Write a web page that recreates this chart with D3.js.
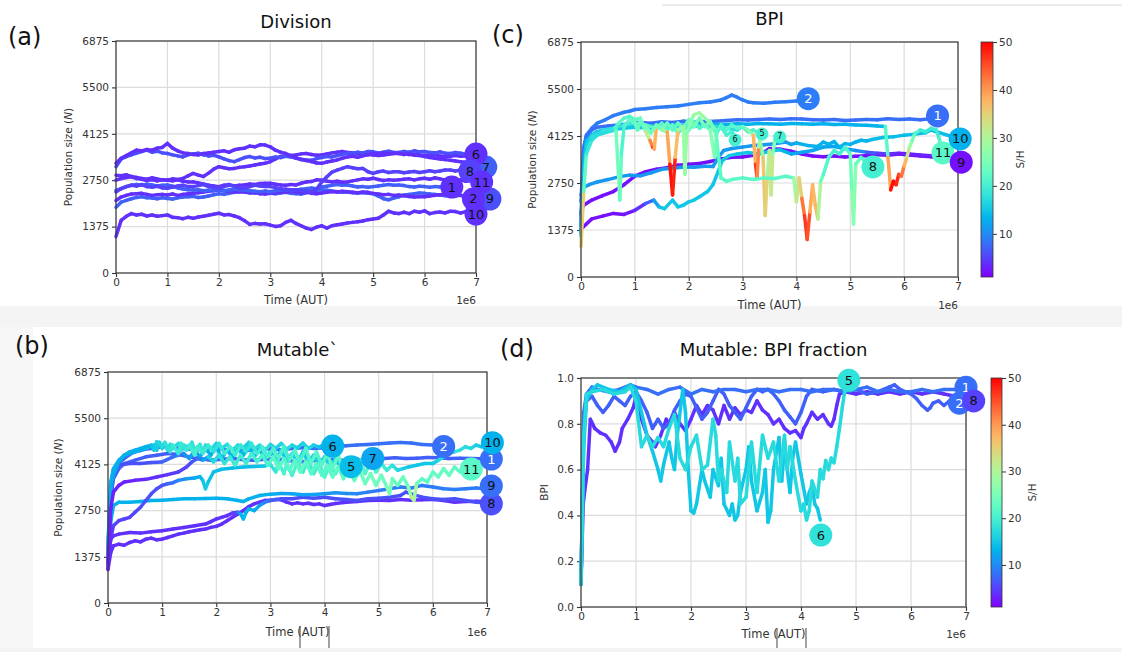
<!DOCTYPE html>
<html><head><meta charset="utf-8">
<script src="https://cdn.jsdelivr.net/npm/d3@7"></script>
<style>body{margin:0;background:#fff;}svg{display:block;}text{font-family:"DejaVu Sans",sans-serif;}</style>
</head><body>
<script>
// ---------------- DATA ----------------
const timeTicks = [0,1,2,3,4,5,6,7];
const popTicks = [0,1375,2750,4125,5500,6875];
const bpiTicks = [0,0.2,0.4,0.6,0.8,1.0];
const shTicks = [10,20,30,40,50];
const shRange = [1,50];
const divStep = 0.1; // time step (1e6 AUT) of the Division series

// (a) Division: population sampled every 0.1e6 AUT
const divN6 = [3150,3380,3450,3500,3550,3600,3640,3580,3610,3560,3540,3500,3470,3440,3500,3530,3550,3500,3470,3490,3440,3380,3330,3300,3360,3420,3450,3410,3430,3390,3400,3440,3420,3460,3440,3400,3370,3350,3340,3390,3420,3450,3440,3480,3520,3540,3550,3580,3560,3600,3590,3560,3580,3610,3570,3570,3600,3580,3620,3590,3600,3570,3560,3590,3550,3540,3570,3550,3520,3550,3530];
const divN7 = [3250,3400,3480,3560,3640,3620,3660,3640,3700,3720,3840,3700,3620,3560,3540,3510,3500,3540,3560,3580,3600,3620,3580,3650,3680,3700,3760,3740,3800,3790,3740,3640,3580,3540,3480,3420,3360,3330,3300,3260,3250,3290,3320,3350,3400,3440,3460,3430,3470,3500,3540,3520,3560,3530,3550,3540,3510,3530,3490,3480,3450,3420,3400,3380,3360,3340,3320,3300,3280,3270,3260];
const divN3 = [2750,2800,2830,2850,2800,2780,2740,2760,2730,2760,2750,2790,2770,2800,2880,2950,2900,2860,2960,3080,3150,3120,3090,3100,3130,3150,3170,3200,3230,3250,3300,3380,3450,3470,3480,3500,3530,3540,3510,3490,3500,3530,3560,3580,3600,3570,3560,3540,3550,3520,3500,3480,3500,3520,3540,3550,3530,3510,3520,3500,3490,3480,3500,3470,3450,3460,3480,3460,3470,3450,3470];
const divN8 = [2400,2500,2560,2600,2580,2620,2560,2540,2570,2520,2510,2550,2580,2600,2560,2560,2590,2620,2560,2540,2510,2560,2600,2580,2520,2510,2560,2600,2580,2560,2560,2530,2500,2480,2470,2460,2430,2420,2410,2480,2700,2850,2990,3050,3100,3150,3120,3090,3100,3000,2950,3000,3020,2980,3000,3000,2970,2990,3010,2980,3000,3030,3000,3020,3050,3050,3020,3060,3040,3070,3050];
const divN11 = [2900,2880,2910,2860,2830,2800,2780,2820,2790,2760,2750,2730,2760,2720,2700,2700,2670,2640,2600,2580,2560,2600,2620,2580,2600,2610,2640,2620,2650,2660,2660,2630,2610,2600,2620,2610,2660,2700,2710,2760,2750,2720,2700,2720,2690,2700,2730,2760,2790,2780,2810,2770,2740,2760,2750,2760,2780,2790,2760,2790,2810,2780,2820,2790,2760,2770,2740,2760,2720,2740,2710];
const divN1 = [2450,2500,2560,2600,2620,2600,2630,2610,2580,2600,2610,2570,2520,2490,2470,2460,2470,2440,2450,2470,2460,2440,2460,2480,2470,2460,2440,2420,2410,2430,2410,2440,2460,2470,2450,2460,2480,2500,2520,2500,2550,2570,2600,2620,2600,2610,2580,2550,2560,2540,2560,2580,2600,2620,2600,2610,2590,2560,2550,2570,2560,2540,2560,2550,2570,2560];
const divN2 = [2150,2250,2300,2340,2350,2360,2330,2300,2320,2330,2310,2340,2300,2330,2350,2360,2380,2400,2420,2440,2460,2440,2420,2400,2410,2410,2380,2390,2350,2340,2360,2380,2400,2390,2420,2410,2380,2400,2360,2350,2370,2390,2410,2400,2420,2410,2390,2380,2400,2390,2360,2340,2320,2330,2300,2310,2290,2270,2250,2260,2260,2280,2300,2320,2340,2360,2330,2300,2270,2250,2230];
const divN9 = [1950,2100,2150,2200,2240,2260,2230,2220,2200,2230,2210,2190,2230,2250,2260,2270,2240,2250,2280,2320,2350,2330,2360,2390,2410,2400,2380,2370,2390,2370,2360,2350,2370,2390,2360,2350,2340,2380,2420,2450,2470,2450,2430,2410,2390,2400,2380,2370,2380,2360,2350,2280,2200,2170,2220,2260,2310,2330,2350,2370,2360,2340,2330,2310,2290,2300,2280,2300,2290,2270,2280];
const divN10 = [1080,1560,1680,1760,1720,1740,1690,1720,1680,1700,1720,1650,1640,1610,1650,1620,1660,1680,1710,1740,1770,1720,1730,1690,1640,1550,1440,1470,1450,1460,1420,1380,1400,1500,1560,1470,1400,1330,1290,1360,1400,1330,1400,1430,1450,1480,1500,1520,1540,1580,1600,1620,1720,1830,1780,1760,1800,1760,1830,1800,1840,1760,1790,1810,1780,1830,1820,1780,1820,1800,1810];
// S/H value of each Division run
const divSH = [4,7,4,7,4,5,4,6,4];
const divLabels = [["7",7.19,3140,7],["9",7.27,2193,6],["6",7.0,3526,4],["8",6.88,3022,5],["11",7.11,2696,4],["2",6.95,2193,4],["1",6.53,2548,4],["10",7.0,1748,4]];

// (c) BPI: [time (1e6 AUT), population, S/H]
const bpiN9 = [[0,1900,2],[0.05,2100],[0.2,2250],[0.4,2380],[0.6,2500],[0.8,2700],[1.0,2950],[1.2,3080],[1.4,3150],[1.6,3200],[1.8,3270],[2.0,3300],[2.2,3320],[2.4,3380],[2.6,3450],[2.8,3500],[3.0,3510],[3.2,3560],[3.4,3650],[3.5,3760],[3.7,3740],[3.9,3680],[4.1,3600],[4.3,3540],[4.5,3520],[4.7,3540],[4.9,3510],[5.1,3530],[5.3,3550],[5.5,3580],[5.7,3560],[5.9,3600],[6.1,3570],[6.3,3540],[6.5,3520],[6.7,3480],[6.85,3450]];
const bpiN4 = [[0,1400,2],[0.1,1550],[0.2,1700],[0.4,1780],[0.6,1860],[0.8,1830],[1.0,1950,3],[1.2,2150,5],[1.35,2250,9],[1.45,2050,14],[1.55,2000,15],[1.7,2250],[1.8,2050],[1.9,2100],[2.0,2200],[2.1,2250],[2.2,2350],[2.35,2500],[2.45,2700],[2.55,3100],[2.62,3400],[2.75,3550],[2.9,3600],[3.1,3640],[3.3,3600],[3.5,3680],[3.7,3720],[3.9,3600,12],[4.1,3650],[4.3,3700],[4.5,3800],[4.7,3820],[4.9,3750],[5.1,3700],[5.3,3650,8],[5.5,3620,5],[5.7,3600,4],[5.9,3620,3],[6.1,3600],[6.3,3570],[6.5,3550],[6.7,3500],[6.85,3470]];
const bpiN10 = [[0,2400,10],[0.05,2620,11],[0.15,2700],[0.3,2780],[0.5,2850],[0.7,2930],[0.9,2980],[1.1,2960],[1.3,3050],[1.5,3150],[1.7,3180],[1.9,3220],[2.1,3210],[2.3,3240],[2.45,3230],[2.55,3500],[2.65,3700],[2.8,3760],[3.0,3800],[3.2,3850],[3.4,3870],[3.6,3900],[3.8,3950],[3.9,3880],[4.0,3920,13],[4.2,3850],[4.4,3820],[4.5,3950],[4.6,3880],[4.7,3960],[4.8,3800],[4.9,3900],[5.0,3880],[5.1,3950],[5.2,4000],[5.3,3980],[5.4,4020,14],[5.6,4080],[5.8,4100],[6.0,4150],[6.2,4180],[6.4,4220],[6.5,4300],[6.6,4250],[6.8,4150],[7.0,4080]];
const bpiN2 = [[0,2200,9],[0.05,3800],[0.1,4150],[0.2,4350],[0.3,4500],[0.45,4600],[0.6,4720],[0.8,4820],[0.9,4850],[1.0,4900],[1.2,4920],[1.4,4960],[1.6,4980],[1.8,5000],[2.0,5050],[2.2,5100],[2.4,5120],[2.6,5180],[2.7,5250],[2.8,5320],[2.9,5260],[3.0,5180],[3.1,5120],[3.2,5100],[3.4,5080],[3.6,5110],[3.8,5130],[4.0,5150],[4.2,5170]];
const bpiN1 = [[0,1800,8],[0.05,3600],[0.1,4100],[0.2,4300],[0.3,4380],[0.5,4420],[0.7,4450],[0.9,4480],[1.1,4520],[1.3,4500],[1.5,4540],[1.7,4520],[1.9,4560],[2.1,4540],[2.3,4550],[2.5,4560],[2.7,4580],[2.9,4600],[3.1,4590],[3.3,4610],[3.5,4620],[3.7,4610],[3.9,4630],[4.1,4620],[4.3,4600],[4.5,4590],[4.7,4610],[4.9,4580],[5.1,4590],[5.3,4610],[5.5,4600],[5.7,4630],[5.9,4610],[6.1,4620],[6.3,4600],[6.5,4630],[6.6,4640]];
const bpiN11 = [[0,1500,5],[0.05,3300,10],[0.1,3900,12],[0.2,4150,13],[0.3,4250],[0.5,4300],[0.7,4380],[0.9,4400],[1.1,4420],[1.3,4400],[1.5,4430],[1.7,4450],[1.9,4440],[2.1,4460],[2.3,4450],[2.5,4470],[2.7,4460],[2.9,4480],[3.1,4470],[3.3,4490],[3.5,4480],[3.7,4470],[3.9,4490],[4.1,4480],[4.3,4470],[4.5,4480],[4.7,4460],[4.9,4470],[5.1,4450],[5.3,4440],[5.5,4420],[5.65,4400,14],[5.7,3500,30],[5.75,2550,48],[5.8,2800,50],[5.85,2700,49],[5.9,3000,46],[5.95,2950,45],[6.0,3250,40],[6.05,3500,35],[6.1,3800,30],[6.15,4000,26],[6.2,4200,22],[6.3,4300,20],[6.4,4250,19],[6.5,4350,19],[6.6,4300,19],[6.65,4050,20],[6.7,3750,22]];
const bpiN7 = [[0,1600,8],[0.05,3400,12],[0.1,4000,13],[0.3,4250,14],[0.5,4300],[0.8,4350,15],[1.0,4380],[1.3,4350],[1.6,4400,16],[1.9,4380],[2.2,4420],[2.5,4400,17],[2.7,4350],[2.9,4300,18],[3.0,4400],[3.1,4250,19],[3.2,4300,20],[3.3,4200,22],[3.38,3500,32],[3.42,1800,40],[3.46,3000,30],[3.5,3700,28],[3.53,2400,36],[3.56,3600,28],[3.6,4000,24],[3.65,4150,22]];
const bpiN5 = [[0,1300,8],[0.05,3200,12],[0.1,3900,14],[0.2,4150,15],[0.4,4300,16],[0.6,4350,18],[0.8,4450],[1.0,4500,20],[1.2,4450,22],[1.4,4350],[1.5,4500],[1.6,4300,21],[1.7,4450,22],[1.8,4200],[1.9,4400,20],[2.0,4300,21],[2.1,4550,22],[2.2,4350,20],[2.3,4450,22],[2.4,4300,24],[2.48,3500,28],[2.52,4200,22],[2.6,4450,20],[2.7,4300,21],[2.8,4450,22],[2.9,4350,21],[3.0,4400,22],[3.1,4300,24],[3.2,4150,30],[3.24,3300,45],[3.27,2900,48],[3.3,3800,35],[3.35,4250,22]];
const bpiN6 = [[0,1200,10],[0.05,3000,14],[0.1,3800,16],[0.2,4100,17],[0.4,4250,18],[0.6,4300,20],[0.7,4500,22],[0.8,4650],[0.9,4700,21],[1.0,4600,22],[1.1,4650,23],[1.2,4250,25],[1.28,4000,38],[1.33,3800,45],[1.36,3750,48],[1.4,4400,28],[1.5,4350,25],[1.6,4500,24],[1.7,4300,22],[1.8,4500],[1.9,4350,24],[2.0,4600,23],[2.1,4400,24],[2.2,4650,25],[2.3,4400,24],[2.4,4550,23],[2.5,4200,22],[2.6,4400,21],[2.7,4150,20],[2.8,4250],[2.87,4100]];
const bpiN8 = [[0,900,45],[0.05,2500,25],[0.1,3600,20],[0.2,4000,18],[0.3,4150,17],[0.5,4250],[0.65,4300,18],[0.7,2900,30],[0.72,2250,24],[0.75,3600,22],[0.8,4400,20],[0.9,4600,22],[1.0,4500,23],[1.05,4300,24],[1.1,4550,22],[1.2,4400,24],[1.3,4200,25],[1.4,4450,23],[1.5,4300,24],[1.6,4250,30],[1.65,3300,48],[1.7,2400,50],[1.75,3500,46],[1.8,4300,28],[1.9,4400,26],[1.93,3000,30],[1.96,4200,26],[2.05,4600],[2.1,4750,28],[2.2,4800,29],[2.3,4650,28],[2.4,4500,26],[2.5,4300,24],[2.55,3600,22],[2.6,2900],[2.7,2800],[2.8,2850],[3.0,2900],[3.2,2850],[3.4,2900],[3.6,2880],[3.8,2950],[3.95,2900],[4.0,2200,35],[4.05,2900,30],[4.1,2300,40],[4.15,1800,45],[4.2,1100,48],[4.25,1900,42],[4.3,2700,35],[4.35,2100,40],[4.4,1700,35],[4.45,2800,25],[4.5,3000,22],[4.6,3500,21],[4.7,3700,20],[4.8,3600],[4.9,3800],[5.0,3600,22],[5.03,2500,26],[5.06,1550,28],[5.1,3300,24],[5.2,3500,22],[5.3,3350,21]];
const bpiLabels = [["6",2.86,4009,20],["5",3.36,4184,20],["7",3.69,4096,20],["2",4.22,5217,9],["8",5.42,3220,20],["1",6.62,4711,8],["11",6.72,3630,22],["9",7.06,3360,2],["10",7.04,4040,13]];
const bpiSmall = ["5","6","7"];

// (b) Mutable: [time (1e6 AUT), population, S/H]
const mutN8 = [[0,1000,4],[0.05,1500],[0.1,1700],[0.2,1750],[0.3,1720],[0.4,1800],[0.5,1850],[0.6,1820],[0.7,1900],[0.8,1930],[0.9,1880],[1.0,1900],[1.1,1950],[1.2,2000],[1.3,2050],[1.4,2080],[1.5,2120],[1.6,2150],[1.7,2180],[1.8,2200],[1.9,2250],[2.0,2280],[2.1,2350],[2.2,2450],[2.3,2550],[2.4,2650],[2.5,2750],[2.6,2870],[2.7,2950],[2.8,3000],[2.9,3050],[3.0,3060],[3.1,3080],[3.2,3070],[3.3,3000],[3.4,2950],[3.5,2980],[3.6,2950],[3.7,2970],[3.8,2930],[3.9,2950],[4.0,2900],[4.1,2930],[4.2,2960],[4.4,3000],[4.6,3020],[4.8,3050],[5.0,3060],[5.2,3050],[5.4,3080],[5.6,3060],[5.8,3070],[6.0,3080],[6.2,3050],[6.4,3000],[6.6,3020],[6.8,3030],[7.0,3020]];
const mutN3 = [[0,1200,4],[0.05,1900],[0.1,2000],[0.2,2050],[0.4,2100],[0.6,2080],[0.8,2120],[1.0,2150],[1.2,2200],[1.4,2250],[1.6,2300],[1.8,2350],[1.9,2420],[2.0,2500],[2.1,2550],[2.2,2600],[2.3,2680],[2.4,2700,6],[2.45,2650,12],[2.5,2500,14],[2.55,2700],[2.6,2800,13],[2.7,2750],[2.8,2900,12],[2.9,3000,10],[3.0,3050,8],[3.2,3100,6],[3.4,3100],[3.6,3150],[3.8,3120],[4.0,3150],[4.2,3100],[4.4,3080],[4.6,3050],[4.8,3100],[5.0,3120],[5.2,3150],[5.4,3200],[5.5,3300],[5.6,3250],[5.8,3150],[6.0,3100],[6.2,3080],[6.4,3100],[6.6,3050],[6.8,3000],[7.0,2980]];
const mutN9 = [[0,1400,12],[0.05,2400,13],[0.1,2900],[0.2,3000],[0.4,3000],[0.6,3020],[0.8,3050],[1.0,3060],[1.2,3080],[1.4,3100],[1.6,3100],[1.8,3110],[2.0,3120],[2.2,3100],[2.4,3050],[2.5,3020],[2.6,3100],[2.8,3200],[3.0,3240],[3.2,3260,12],[3.4,3250],[3.6,3220],[3.8,3230],[4.0,3250,11],[4.2,3280],[4.4,3260,10],[4.6,3250],[4.8,3300,9],[5.0,3350],[5.2,3400],[5.4,3450],[5.6,3420],[5.8,3500],[6.0,3450],[6.2,3400],[6.4,3380],[6.6,3400],[6.8,3420],[7.0,3400]];
const mutN1 = [[0,1300,7],[0.05,3200],[0.1,3700],[0.2,4000],[0.3,4150],[0.5,4250],[0.7,4350],[0.9,4400],[1.1,4450],[1.3,4420],[1.5,4350],[1.7,4300],[1.9,4250],[2.1,4280],[2.3,4300],[2.5,4260],[2.7,4250],[2.9,4280],[3.1,4300],[3.3,4250],[3.5,4200],[3.7,4220],[3.9,4250],[4.1,4280],[4.3,4250],[4.5,4230],[4.7,4260],[4.9,4280],[5.1,4300],[5.3,4320],[5.5,4300],[5.7,4310],[5.9,4330],[6.1,4320],[6.3,4300],[6.5,4310],[6.7,4300],[6.9,4290],[7.0,4300]];
const mutN2 = [[0,1600,8],[0.05,3500],[0.1,3950],[0.2,4150],[0.3,4300],[0.4,4420],[0.5,4500],[0.6,4540],[0.7,4580],[0.8,4600],[0.9,4620],[1.0,4650],[1.2,4640],[1.4,4600],[1.6,4560],[1.8,4580],[2.0,4600],[2.2,4560],[2.4,4580],[2.6,4550],[2.8,4600],[3.0,4580],[3.2,4560],[3.4,4600],[3.6,4620],[3.8,4600],[4.0,4620],[4.2,4650],[4.4,4680],[4.6,4700],[4.8,4720],[5.0,4740],[5.2,4760],[5.4,4780],[5.6,4760],[5.8,4720],[6.0,4700],[6.15,4680]];
const mutN7 = [[0,1100,5],[0.05,3000],[0.1,3800,6],[0.2,4100],[0.4,4150],[0.6,4150],[0.8,4180],[1.0,4200,7],[1.2,4350,8],[1.4,4450,9],[1.5,4300,12],[1.6,4550,11],[1.7,4350,13],[1.8,4600,12],[1.9,4400,14],[2.0,4650,12],[2.1,4300,15],[2.2,4550,13],[2.3,4350,14],[2.4,4600,12],[2.5,4400,14],[2.6,4650,12],[2.7,4350,15],[2.8,4550,13],[2.9,4300,15],[3.0,4500,13],[3.1,4250,16],[3.2,4550,13],[3.3,4200,17],[3.4,4450,14],[3.5,4150,17],[3.6,4500,14],[3.7,4200,16],[3.8,4400,14],[3.9,4100,17],[4.0,4350,14],[4.1,4050,17],[4.2,4300,14],[4.3,4000,16],[4.4,4250,14],[4.5,4100,15],[4.6,4300,13],[4.7,4200],[4.8,4300,12],[4.85,4300]];
const mutN5 = [[0,1200,4],[0.05,1900],[0.1,2300,5],[0.2,2450],[0.3,2500],[0.4,2550],[0.5,2700],[0.6,2850,6],[0.7,3050],[0.8,3250],[0.9,3400],[1.0,3500],[1.1,3550,7],[1.2,3580,8],[1.3,3650,9],[1.45,3700,11],[1.6,3720,12],[1.7,3760,13],[1.75,3650,14],[1.8,3400,16],[1.85,3600,15],[1.95,3900,14],[2.1,3980],[2.3,4020],[2.5,4050],[2.7,4060],[2.9,4080,15],[3.0,4120,16],[3.1,3900,20],[3.15,4200,18],[3.25,3850,22],[3.3,4150,19],[3.4,3800,23],[3.5,4200,18],[3.6,3900,22],[3.7,4250,17],[3.8,3850,21],[3.9,4150,18],[4.0,3750,23],[4.1,4100,19],[4.2,3850,21],[4.3,4150,17],[4.4,3950,16],[4.49,4060,15]];
const mutN6 = [[0,1500,8],[0.05,3300,10],[0.1,3800,12],[0.2,4200],[0.3,4400,13],[0.5,4500],[0.7,4600,14],[0.85,4700,15],[0.9,4550,16],[0.95,4780,15],[1.0,4600,17],[1.05,4750,15],[1.1,4550,18],[1.15,4720,16],[1.2,4600,18],[1.3,4750,16],[1.35,4550,19],[1.4,4700,17],[1.5,4620,18],[1.55,4780,16],[1.6,4550,20],[1.7,4720,17],[1.75,4500,20],[1.8,4700,16],[1.9,4580,18],[2.0,4750,15],[2.1,4600,17],[2.2,4720,16],[2.3,4550,19],[2.4,4700,16],[2.5,4620,17],[2.6,4780,15],[2.7,4580,18],[2.8,4700,16],[2.9,4550,19],[3.0,4720,16],[3.1,4600,17],[3.2,4750,15],[3.3,4580,18],[3.4,4700,16],[3.5,4620,17],[3.6,4760,15],[3.7,4600,17],[3.8,4700,16],[3.9,4640,15],[4.0,4720,14],[4.1,4680,13],[4.15,4670]];
const mutN10 = [[0,1800,12],[0.05,3600,13],[0.1,4000],[0.2,4250],[0.3,4400],[0.4,4500],[0.5,4550],[0.6,4600],[0.7,4650],[0.8,4700],[0.85,4550,16],[0.9,4800,15],[1.0,4650,18],[1.05,4780,16],[1.15,4500,20],[1.2,4700,17],[1.3,4450,21],[1.35,4750,17],[1.45,4550,20],[1.5,4700,17],[1.6,4400,22],[1.65,4650,18],[1.75,4450,21],[1.85,4700,17],[1.95,4500,20],[2.05,4750,16],[2.15,4450,21],[2.25,4650,18],[2.35,4400,22],[2.45,4700,17],[2.55,4500,20],[2.65,4750,16],[2.75,4450,21],[2.85,4650,18],[2.95,4350,22],[3.05,4600,18],[3.15,4300,23],[3.25,4650,18],[3.35,4250,22],[3.45,4550,19],[3.55,4200,23],[3.65,4600,18],[3.75,4150,24],[3.85,4500,19],[3.95,4100,23],[4.05,4450,20],[4.15,4000,24],[4.25,4400,20],[4.35,3950,24],[4.45,4300,20],[4.55,3900,23],[4.65,4250,20],[4.75,3850,22],[4.85,4200,20],[4.95,3900,22],[5.05,4150,19],[5.15,3950,20],[5.25,4100,18],[5.35,3950,17],[5.45,4000,16],[5.55,4050,15],[5.7,4100],[5.85,4150],[6.0,4150],[6.1,4250,16],[6.2,4350,17],[6.3,4450],[6.4,4500,18],[6.5,4550],[6.6,4650,17],[6.7,4600],[6.8,4700,16],[6.9,4650,15],[7.0,4720,14]];
const mutN11 = [[0,1000,3],[0.05,2800],[0.1,3300],[0.2,3500],[0.3,3600],[0.5,3650],[0.7,3680,4],[0.9,3750],[1.1,3820],[1.3,3900,5],[1.45,4050],[1.55,4200,6],[1.65,4300,7],[1.75,4250,10],[1.85,4350,14],[1.95,4200,18],[2.05,4400,16],[2.15,4150,20],[2.25,4350,17],[2.35,4100,21],[2.45,4400,18],[2.55,4150,21],[2.65,4450,18],[2.75,4200,22],[2.85,4400,19],[2.95,4100,22],[3.05,4350,20],[3.15,4000,24],[3.25,4300,20],[3.35,3950,23],[3.45,4250,20],[3.55,3900,24],[3.65,4200,21],[3.75,3850,23],[3.85,4150,20],[3.95,3800,23],[4.05,4100,20],[4.15,3750,24],[4.25,4050,21],[4.35,3700,24],[4.45,4000,21],[4.55,3650,24],[4.65,3950,22],[4.75,3550,25],[4.85,3850,22],[4.95,3500,26],[5.05,3800,22],[5.15,3450,25],[5.2,3250,27],[5.25,3700,23],[5.35,3500,24],[5.45,3750,22],[5.55,3450,25],[5.6,3150,30],[5.65,3050,34],[5.7,3550,25],[5.8,3700,22],[5.9,3600,23],[6.0,3900,22],[6.1,3750,24],[6.2,4000,22],[6.3,3800,24],[6.4,4050,22],[6.5,3900,23],[6.6,4100,22],[6.7,3980,22]];
const mutLabels = [["6",4.15,4670,13],["5",4.49,4057,14],["7",4.89,4304,12],["2",6.2,4660,8],["11",6.71,3988,22],["8",7.08,2949,6],["9",7.08,3483,8],["1",7.08,4285,8],["10",7.1,4770,13]];

// (d) Mutable BPI fraction: [time (1e6 AUT), BPI, S/H]
const fracN8 = [[0,0.1,4],[0.04,0.45],[0.08,0.53],[0.12,0.6],[0.17,0.82],[0.25,0.78],[0.35,0.76],[0.45,0.75],[0.55,0.72],[0.62,0.68],[0.7,0.72],[0.75,0.78],[0.85,0.82],[0.95,0.87],[1.0,0.92],[1.1,0.82],[1.2,0.75],[1.3,0.72],[1.35,0.7],[1.45,0.75],[1.55,0.82],[1.6,0.8],[1.7,0.85],[1.8,0.8],[1.9,0.77],[2.0,0.82],[2.1,0.88],[2.2,0.84],[2.3,0.88],[2.4,0.86],[2.5,0.8],[2.6,0.88],[2.7,0.82],[2.8,0.87],[2.9,0.84],[3.0,0.86],[3.1,0.85],[3.2,0.9],[3.3,0.86],[3.4,0.84],[3.5,0.8],[3.6,0.82],[3.7,0.78],[3.8,0.76],[3.9,0.77],[4.0,0.74],[4.05,0.78],[4.1,0.8],[4.2,0.85],[4.3,0.82],[4.4,0.84],[4.5,0.8],[4.55,0.79],[4.6,0.82],[4.65,0.88],[4.7,0.93],[4.8,0.94],[5.0,0.93],[5.2,0.94],[5.4,0.93],[5.6,0.94],[5.8,0.93],[6.0,0.94],[6.2,0.93],[6.4,0.94],[6.6,0.93],[6.8,0.92],[7.0,0.91]];
const fracN2 = [[0,0.1,7],[0.05,0.8],[0.1,0.9],[0.2,0.92],[0.3,0.88],[0.4,0.85],[0.5,0.88],[0.6,0.92],[0.7,0.9],[0.8,0.88],[0.9,0.92],[1.0,0.94],[1.1,0.9],[1.2,0.85],[1.3,0.78],[1.35,0.8],[1.4,0.82],[1.5,0.78],[1.6,0.8],[1.7,0.86],[1.8,0.9],[1.9,0.93],[2.0,0.92],[2.1,0.87],[2.2,0.82],[2.3,0.85],[2.4,0.9],[2.5,0.95],[2.6,0.93],[2.7,0.88],[2.8,0.85],[2.9,0.82],[3.0,0.87],[3.1,0.92],[3.2,0.95],[3.3,0.94],[3.4,0.95],[3.5,0.93],[3.6,0.9],[3.7,0.86],[3.8,0.83],[3.9,0.8],[4.0,0.85],[4.1,0.92],[4.2,0.95],[4.4,0.94],[4.6,0.95],[4.8,0.94],[5.0,0.95],[5.2,0.93],[5.4,0.94],[5.6,0.96],[5.7,0.97],[5.8,0.95],[6.0,0.93],[6.1,0.91],[6.2,0.88],[6.3,0.86],[6.35,0.87],[6.4,0.89],[6.5,0.9],[6.6,0.88],[6.7,0.9],[6.8,0.91],[6.85,0.89]];
const fracN1 = [[0,0.1,8],[0.05,0.85],[0.1,0.93],[0.2,0.96],[0.3,0.95],[0.5,0.94],[0.7,0.95],[0.9,0.97],[1.0,0.96],[1.2,0.95],[1.4,0.93],[1.6,0.95],[1.8,0.96],[2.0,0.93],[2.2,0.95],[2.4,0.94],[2.6,0.95],[2.8,0.95],[3.0,0.94],[3.2,0.95],[3.4,0.95],[3.6,0.94],[3.8,0.95],[4.0,0.95],[4.2,0.94],[4.4,0.95],[4.6,0.95],[4.8,0.94],[5.0,0.95],[5.2,0.96],[5.4,0.94],[5.6,0.95],[5.8,0.94],[6.0,0.94],[6.2,0.95],[6.4,0.94],[6.6,0.95],[6.8,0.95],[6.95,0.94]];
const fracN6 = [[0,0.12,15],[0.05,0.7],[0.1,0.9],[0.2,0.95],[0.3,0.97],[0.5,0.95],[0.7,0.94],[0.9,0.97],[1.0,0.95],[1.1,0.85],[1.2,0.75],[1.3,0.68],[1.4,0.6],[1.45,0.55],[1.5,0.62],[1.6,0.72],[1.65,0.65],[1.7,0.6],[1.75,0.75],[1.85,0.95],[1.9,0.85],[1.95,0.6],[2.0,0.42],[2.05,0.41],[2.1,0.45],[2.2,0.6],[2.25,0.55],[2.35,0.48],[2.4,0.6],[2.5,0.53],[2.55,0.65],[2.6,0.45],[2.7,0.4],[2.75,0.45],[2.8,0.38],[2.85,0.4],[2.9,0.5],[3.0,0.6],[3.05,0.7],[3.1,0.55],[3.2,0.42],[3.3,0.5],[3.35,0.6],[3.4,0.37],[3.45,0.42],[3.5,0.6],[3.6,0.74],[3.65,0.55],[3.7,0.7],[3.8,0.5],[3.85,0.65],[3.9,0.72],[4.0,0.58],[4.1,0.45],[4.15,0.5],[4.2,0.53],[4.25,0.45],[4.3,0.43],[4.35,0.38]];
const fracN5 = [[0,0.1,17],[0.05,0.75],[0.1,0.93],[0.2,0.94],[0.4,0.95],[0.6,0.93],[0.8,0.94],[0.9,0.96],[1.0,0.9],[1.1,0.7],[1.2,0.75],[1.3,0.7],[1.4,0.74],[1.5,0.7],[1.6,0.78],[1.7,0.84],[1.8,0.65],[1.9,0.6],[2.0,0.7],[2.1,0.75],[2.2,0.6],[2.3,0.62],[2.4,0.82],[2.45,0.75],[2.5,0.55],[2.55,0.6],[2.65,0.5],[2.7,0.72],[2.8,0.55],[2.85,0.65],[2.9,0.45],[3.0,0.48],[3.1,0.72],[3.2,0.5],[3.3,0.75],[3.4,0.65],[3.5,0.72],[3.6,0.55],[3.7,0.75],[3.75,0.6],[3.8,0.7],[3.9,0.55],[4.0,0.42],[4.05,0.45],[4.1,0.38],[4.15,0.42],[4.2,0.55],[4.3,0.48],[4.35,0.6],[4.4,0.56],[4.45,0.64],[4.5,0.6],[4.55,0.65],[4.6,0.63],[4.65,0.7],[4.7,0.78],[4.75,0.87],[4.8,0.95],[4.87,0.97]];
const fracLabels = [["6",4.36,0.314,18],["5",4.87,0.99,18],["2",6.88,0.89,8],["1",7.0,0.96,8],["8",7.14,0.9,5]];

// ---------------- DRAWING ----------------
const W = 1122, H = 652;
const svg = d3.select("body").append("svg").attr("width", W).attr("height", H);
const shColor = d3.scaleSequential(x => {
  const r = Math.min(1, Math.abs(2*x - 0.5)), g = Math.sin(Math.PI*x), b = Math.cos(Math.PI*x/2);
  return d3.rgb(r*255, g*255, b*255).formatHex();
}).domain(shRange).clamp(true);

// screenshot background bands
svg.append("rect").attr("width",W).attr("height",H).attr("fill","#fff");
svg.append("rect").attr("x",0).attr("y",306).attr("width",W).attr("height",21).attr("fill","#f4f4f4");
svg.append("rect").attr("x",0).attr("y",327).attr("width",33).attr("height",325).attr("fill","#f7f7f7");
svg.append("rect").attr("x",0).attr("y",648).attr("width",W).attr("height",4).attr("fill","#f4f4f4");
svg.append("line").attr("x1",662).attr("x2",W).attr("y1",5).attr("y2",5).attr("stroke","#e4e4e4").attr("stroke-width",1.5);

function uniformSeries(vals, sh) { return vals.map((v,i) => ({t: i*divStep*1e6, v, s: sh})); }
function tripleSeries(arr) {
  let s = arr[0][2];
  return arr.map(d => { if (d.length > 2) s = d[2]; return {t: d[0]*1e6, v: d[1], s}; });
}

function drawPanel(p) {
  const g = svg.append("g");
  const x = d3.scaleLinear().domain([0, 7e6]).range([p.x0, p.x1]);
  const y = d3.scaleLinear().domain(p.yDomain).range([p.yBot, p.yTop]);
  const xt = timeTicks.map(d => d*1e6);
  g.selectAll(".gx").data(xt).join("line").attr("x1", d=>x(d)).attr("x2", d=>x(d))
    .attr("y1", p.yTop).attr("y2", p.yBot).attr("stroke", "#dcdcdc").attr("stroke-width", 1.2);
  g.selectAll(".gy").data(p.yTicks).join("line").attr("y1", d=>y(d)).attr("y2", d=>y(d))
    .attr("x1", p.x0).attr("x2", p.x1).attr("stroke", "#dcdcdc").attr("stroke-width", 1.2);
  const ax = g.append("g").attr("transform", `translate(0,${p.yBot})`)
    .call(d3.axisBottom(x).tickValues(xt).tickFormat(d => d/1e6).tickSize(4).tickPadding(2));
  const ay = g.append("g").attr("transform", `translate(${p.x0},0)`)
    .call(d3.axisLeft(y).tickValues(p.yTicks).tickFormat(p.yFormat).tickSize(4).tickPadding(3));
  [ax, ay].forEach(a => {
    a.select(".domain").remove();
    a.selectAll("line").attr("stroke", "#333").attr("stroke-width", 1.1);
    a.selectAll("text").attr("font-size", 10.5).attr("fill", "#333").attr("font-family", "DejaVu Sans");
  });
  // series
  p.series.forEach(ser => {
    g.append("g").selectAll("line").data(d3.pairs(ser)).join("line")
      .attr("x1", d=>x(d[0].t)).attr("y1", d=>y(d[0].v))
      .attr("x2", d=>x(d[1].t)).attr("y2", d=>y(d[1].v))
      .attr("stroke", d => shColor((d[0].s + d[1].s)/2))
      .attr("stroke-width", 3.5).attr("stroke-linecap", "round");
  });
  g.append("rect").attr("x", p.x0).attr("y", p.yTop).attr("width", p.x1-p.x0).attr("height", p.yBot-p.yTop)
    .attr("fill", "none").attr("stroke", "#3a3a3a").attr("stroke-width", 1.2);
  // labels
  p.labels.forEach(L => {
    const small = (p.small || []).includes(L[0]);
    const cx = x(L[1]*1e6), cy = y(L[2]);
    g.append("circle").attr("cx", cx).attr("cy", cy).attr("r", small ? 6.5 : 11.5).attr("fill", shColor(L[3]));
    g.append("text").attr("x", cx).attr("y", cy).attr("text-anchor", "middle").attr("dominant-baseline", "central")
      .attr("font-size", small ? 8 : 13).attr("fill", (p.white || []).includes(L[0]) ? "#fff" : "#111").text(L[0]);
  });
  // texts
  g.append("text").attr("x", (p.x0+p.x1)/2).attr("y", p.titleY).attr("text-anchor", "middle")
    .attr("font-family", "Lato, 'Open Sans', sans-serif").attr("font-size", 18).attr("fill", "#111").text(p.title);
  g.append("text").attr("x", p.letterX).attr("y", p.letterY).attr("font-family", "Lato, 'Open Sans', sans-serif")
    .attr("font-size", 24).attr("fill", "#111").text(p.letter);
  g.append("text").attr("x", (p.x0+p.x1)/2).attr("y", p.xLabelY).attr("text-anchor", "middle")
    .attr("font-size", 11.5).attr("fill", "#333").text("Time (AUT)");
  g.append("text").attr("x", p.x1).attr("y", p.xLabelY).attr("text-anchor", "end")
    .attr("font-size", 10.5).attr("fill", "#333").text("1e6");
  const yl = g.append("text").attr("transform", `translate(${p.yLabelX},${(p.yTop+p.yBot)/2}) rotate(-90)`)
    .attr("text-anchor", "middle").attr("font-size", 10.5).attr("fill", "#333");
  if (p.yLabel === "pop") {
    yl.append("tspan").text("Population size (");
    yl.append("tspan").attr("font-style", "italic").text("N");
    yl.append("tspan").text(")");
  } else yl.text(p.yLabel);
  if (p.bars) p.bars.forEach(bx => g.append("line").attr("x1", bx).attr("x2", bx)
    .attr("y1", p.xLabelY - 10).attr("y2", 648).attr("stroke", "#555").attr("stroke-width", 1.1));
  if (p.cbar) drawColorbar(p.cbar, p.yTop, p.yBot);
}

let gradId = 0;
function drawColorbar(cb, yTop, yBot) {
  const id = "grad" + (gradId++);
  const grad = svg.append("defs").append("linearGradient").attr("id", id)
    .attr("x1", 0).attr("y1", 1).attr("x2", 0).attr("y2", 0);
  d3.range(0, 1.0001, 0.05).forEach(f => grad.append("stop").attr("offset", f)
    .attr("stop-color", shColor(shRange[0] + f*(shRange[1]-shRange[0]))));
  svg.append("rect").attr("x", cb.x).attr("y", yTop).attr("width", cb.w).attr("height", yBot-yTop)
    .attr("fill", `url(#${id})`).attr("stroke", "#333").attr("stroke-width", 0.8);
  const s = d3.scaleLinear().domain(shRange).range([yBot, yTop]);
  const a = svg.append("g").attr("transform", `translate(${cb.x+cb.w},0)`)
    .call(d3.axisRight(s).tickValues(shTicks).tickSize(4).tickPadding(2));
  a.select(".domain").remove();
  a.selectAll("line").attr("stroke", "#333");
  a.selectAll("text").attr("font-size", 10.5).attr("fill", "#333");
  svg.append("text").attr("transform", `translate(${cb.labelX},${(yTop+yBot)/2}) rotate(-90)`)
    .attr("text-anchor", "middle").attr("font-size", 10.5).attr("fill", "#333").text("S/H");
}

const popFmt = d => d;
const bpiFmt = d3.format(".1f");
const divVals = [divN10, divN9, divN2, divN1, divN11, divN8, divN3, divN6, divN7];
drawPanel({
  x0:116, x1:476, yTop:41, yBot:273, yDomain:[0,6875], yTicks:popTicks, yFormat:popFmt,
  series: divVals.map((v,i) => uniformSeries(v, divSH[i])), labels: divLabels,
  title:"Division", titleY:28, letter:"(a)", letterX:8, letterY:45, xLabelY:304, yLabelX:72, yLabel:"pop"
});
drawPanel({
  x0:581, x1:958, yTop:42, yBot:277, yDomain:[0,6875], yTicks:popTicks, yFormat:popFmt,
  series: [bpiN9, bpiN4, bpiN10, bpiN2, bpiN1, bpiN11, bpiN7, bpiN5, bpiN6, bpiN8].map(tripleSeries),
  labels: bpiLabels, small: bpiSmall, white:["1","2"],
  title:"BPI", titleY:25, letter:"(c)", letterX:492, letterY:43, xLabelY:309, yLabelX:536, yLabel:"pop",
  cbar:{x:981, w:12, labelX:1024}
});
drawPanel({
  x0:108, x1:487, yTop:372, yBot:603, yDomain:[0,6875], yTicks:popTicks, yFormat:popFmt,
  series: [mutN8, mutN3, mutN9, mutN1, mutN2, mutN7, mutN5, mutN6, mutN10, mutN11].map(tripleSeries),
  labels: mutLabels, white:["1","2"],
  title:"Mutable`", titleY:356, letter:"(b)", letterX:15, letterY:354, xLabelY:636, yLabelX:62, yLabel:"pop",
  bars:[300, 329]
});
drawPanel({
  x0:581, x1:966, yTop:378, yBot:607, yDomain:[0,1], yTicks:bpiTicks, yFormat:bpiFmt,
  series: [fracN8, fracN2, fracN1, fracN6, fracN5].map(tripleSeries),
  labels: fracLabels, white:["1","2"],
  title:"Mutable: BPI fraction", titleY:356, letter:"(d)", letterX:500, letterY:357, xLabelY:638, yLabelX:548, yLabel:"BPI",
  bars:[777, 806], cbar:{x:991, w:11, labelX:1036}
});
</script></body></html>
